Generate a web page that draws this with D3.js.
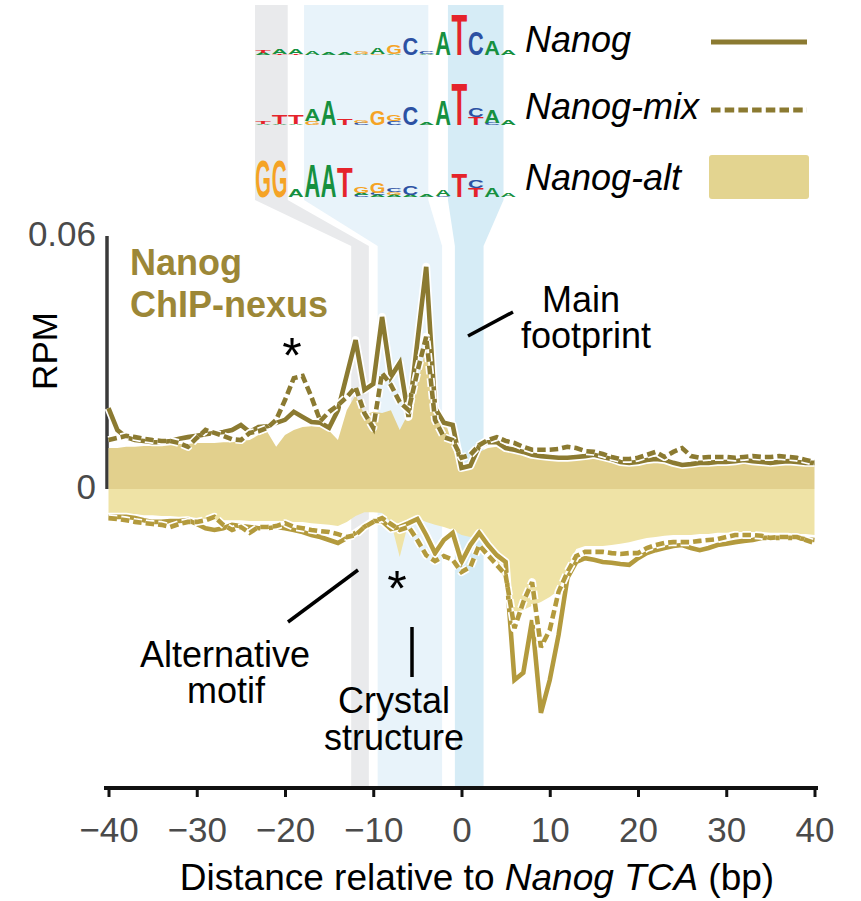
<!DOCTYPE html>
<html><head><meta charset="utf-8">
<script src="https://cdn.jsdelivr.net/npm/d3@7"></script>
<style>
body{margin:0;background:#fff;}
svg{display:block;font-family:"Liberation Sans",Arial,Helvetica,sans-serif;}
</style></head><body>
<svg id="chart" width="861" height="901"></svg>
<script>
// ---------------- DATA ----------------
const positions = d3.range(-40, 41);          // bp relative to Nanog TCA
const xTicks = [-40, -30, -20, -10, 0, 10, 20, 30, 40];
const yTicks = [0, 0.06];
const yTickLabels = ["0", "0.06"];

const seriesNames = ["Nanog", "Nanog-mix", "Nanog-alt"];

// positive strand (RPM)
const nanogPos = [
 .0192,.0140,.0123,.0116,.0114,.0111,.0111,.0114,.0119,.0123,
 .0126,.0130,.0133,.0135,.0140,.0152,.0135,.0147,.0149,.0157,
 .0164,.0183,.0171,.0159,.0157,.0145,.0187,.0270,.0353,.0235,
 .0249,.0408,.0266,.0299,.0171,.0349,.0527,.0192,.0157,.0152,
 .0050,.0055,.0102,.0111,.0111,.0097,.0093,.0088,.0081,.0078,
 .0076,.0074,.0074,.0076,.0078,.0081,.0076,.0071,.0064,.0062,
 .0064,.0069,.0071,.0069,.0062,.0057,.0059,.0062,.0062,.0064,
 .0064,.0066,.0069,.0066,.0064,.0062,.0064,.0066,.0064,.0062,.0062];
const mixPos = [
 .0116,.0121,.0126,.0123,.0119,.0116,.0114,.0114,.0109,.0100,
 .0121,.0140,.0133,.0126,.0118,.0116,.0133,.0137,.0145,.0164,
 .0211,.0263,.0268,.0218,.0161,.0183,.0199,.0218,.0242,.0180,
 .0145,.0275,.0247,.0206,.0187,.0278,.0361,.0164,.0123,.0116,
 .0074,.0081,.0104,.0116,.0123,.0114,.0109,.0100,.0093,.0093,
 .0093,.0095,.0100,.0097,.0090,.0088,.0083,.0076,.0071,.0071,
 .0074,.0081,.0088,.0076,.0088,.0097,.0078,.0074,.0076,.0076,
 .0076,.0074,.0076,.0078,.0076,.0076,.0078,.0076,.0074,.0069,.0064];
const altPos = [
 .0097,.0097,.0100,.0100,.0102,.0102,.0104,.0104,.0107,.0107,
 .0109,.0109,.0109,.0111,.0111,.0114,.0116,.0128,.0135,.0100,
 .0128,.0140,.0147,.0149,.0147,.0138,.0116,.0187,.0223,.0176,
 .0183,.0180,.0187,.0140,.0180,.0247,.0337,.0199,.0171,.0104,
 .0057,.0055,.0088,.0097,.0100,.0090,.0085,.0083,.0078,.0076,
 .0074,.0071,.0071,.0071,.0074,.0076,.0074,.0069,.0064,.0062,
 .0062,.0064,.0066,.0066,.0062,.0059,.0059,.0059,.0059,.0062,
 .0062,.0062,.0064,.0064,.0062,.0062,.0062,.0062,.0062,.0062,.0062];
// negative strand (RPM)
const nanogNeg = [
 -.0066,-.0066,-.0066,-.0069,-.0074,-.0078,-.0078,-.0076,-.0076,-.0074,
 -.0083,-.0093,-.0097,-.0093,-.0085,-.0088,-.0090,-.0093,-.0093,-.0090,
 -.0093,-.0097,-.0102,-.0109,-.0114,-.0121,-.0128,-.0116,-.0104,-.0090,
 -.0076,-.0076,-.0095,-.0090,-.0081,-.0071,-.0109,-.0152,-.0121,-.0104,
 -.0173,-.0133,-.0104,-.0133,-.0157,-.0173,-.0453,-.0436,-.0311,-.0531,
 -.0453,-.0346,-.0211,-.0173,-.0164,-.0168,-.0173,-.0175,-.0178,-.0180,
 -.0164,-.0152,-.0145,-.0140,-.0135,-.0133,-.0140,-.0145,-.0140,-.0133,
 -.0130,-.0126,-.0123,-.0121,-.0116,-.0116,-.0116,-.0116,-.0116,-.0119,-.0121];
const mixNeg = [
 -.0069,-.0071,-.0074,-.0078,-.0081,-.0083,-.0085,-.0090,-.0083,-.0078,
 -.0078,-.0074,-.0066,-.0085,-.0097,-.0090,-.0104,-.0090,-.0090,-.0088,
 -.0081,-.0090,-.0093,-.0097,-.0100,-.0102,-.0107,-.0114,-.0109,-.0090,
 -.0078,-.0069,-.0083,-.0097,-.0090,-.0121,-.0157,-.0171,-.0159,-.0168,
 -.0197,-.0185,-.0133,-.0157,-.0180,-.0204,-.0330,-.0268,-.0221,-.0375,
 -.0334,-.0244,-.0197,-.0159,-.0149,-.0149,-.0149,-.0152,-.0154,-.0152,
 -.0152,-.0140,-.0133,-.0128,-.0126,-.0126,-.0126,-.0123,-.0121,-.0119,
 -.0114,-.0109,-.0109,-.0109,-.0111,-.0116,-.0114,-.0114,-.0114,-.0121,-.0128];
const altNeg = [
 -.0057,-.0057,-.0059,-.0059,-.0062,-.0062,-.0064,-.0064,-.0066,-.0066,
 -.0069,-.0071,-.0074,-.0074,-.0074,-.0074,-.0076,-.0076,-.0076,-.0076,
 -.0076,-.0078,-.0078,-.0081,-.0083,-.0085,-.0088,-.0078,-.0064,-.0055,
 -.0055,-.0057,-.0078,-.0161,-.0078,-.0069,-.0078,-.0085,-.0090,-.0097,
 -.0109,-.0114,-.0111,-.0116,-.0168,-.0228,-.0292,-.0287,-.0277,-.0268,
 -.0256,-.0240,-.0187,-.0142,-.0135,-.0135,-.0135,-.0133,-.0130,-.0126,
 -.0121,-.0116,-.0114,-.0111,-.0109,-.0109,-.0109,-.0107,-.0107,-.0104,
 -.0104,-.0102,-.0102,-.0102,-.0102,-.0104,-.0104,-.0104,-.0107,-.0107,-.0109];

// highlighted motif regions: logo columns (top) and bp (plot)
const bandNames = ["Alternative motif", "Crystal structure", "Main footprint"];
const bandLogoStart = [0, 3, 11.8];
const bandLogoEnd   = [2, 10.6, 15.2];
const bandBpStart   = [-12.5, -9.5, -0.75];
const bandBpEnd     = [-10.5, -2.2, 2.5];

// sequence logos: stacks per column, bottom->top, [letter, bits]
const logoNanog = [
 [["A",.1],["T",.14]],[["T",.05],["A",.24]],[["T",.05],["A",.24]],[["A",.19]],
 [["A",.1]],[["A",.1]],[["A",.05],["G",.14]],[["G",.05],["A",.33]],
 [["A",.05],["G",.43]],[["C",.81]],[["A",.05],["C",.14]],[["A",1.14]],
 [["T",1.95]],[["C",1.14]],[["A",.67]],[["A",.24]]];
const logoMix = [
 [["A",.05],["T",.1]],[["A",.05],["T",.43]],[["A",.05],["T",.43]],[["G",.19],["A",.57]],
 [["A",1.19]],[["T",.33]],[["C",.1],["G",.14]],[["G",.71]],
 [["C",.19],["G",.33]],[["C",.86]],[["A",.1]],[["A",1.19]],
 [["T",2.0]],[["T",.38],["C",.43]],[["C",.1],["A",.62]],[["A",.24]]];
const logoAlt = [
 [["G",1.76]],[["G",1.76]],[["A",.38]],[["A",1.57]],
 [["A",1.57]],[["T",1.43]],[["C",.1],["A",.1],["G",.29]],[["A",.1],["C",.1],["G",.48]],
 [["A",.1],["G",.14],["C",.19]],[["A",.1],["C",.43]],[["A",.1]],[["C",.05],["A",.33]],
 [["T",1.14]],[["T",.43],["C",.38]],[["A",.43]],[["A",.19]]];
const logos = [logoNanog, logoMix, logoAlt];

// ---------------- STYLE ----------------
const posLine = "#8b7a31", negLine = "#b39a3d";
const posFill = "#e2d08d", negFill = "#efe3a6";
const bandColors = ["#e9eaec", "#e8f3fa", "#d6ecf6"];
const letterColors = {A:"#16903f", C:"#2c51a3", G:"#f5a325", T:"#e5232b"};
const letterWidth = {A:.722, C:.722, G:.778, T:.611};

const svg = d3.select("#chart");
const x = d3.scaleLinear().domain([-40, 40]).range([108.5, 814.5]);
const y = d3.scaleLinear().domain([0, 0.06]).range([489, 236]);
const axisY = 788;
const logoX = d3.scaleLinear().domain([0, 16]).range([255, 516.6]);
const logoH = d3.scaleLinear().domain([0, 2]).range([0, 42]);
const logoBase = [55, 125, 197];

// bands
bandNames.forEach((n, i) => {
  const lx0 = logoX(bandLogoStart[i]), lx1 = logoX(bandLogoEnd[i]);
  const px0 = x(bandBpStart[i]), px1 = x(bandBpEnd[i]);
  const pts = [[lx0,5],[lx1,5],[lx1,200],[px1,246],[px1,axisY],[px0,axisY],[px0,246],[lx0,200]];
  svg.append("path").attr("d", d3.line()(pts) + "Z").attr("fill", bandColors[i]);
});

// logos (drawn as one compound path-like group per row)
const colW = logoX(1) - logoX(0);
logos.forEach((rows, r) => {
  const g = svg.append("g").attr("class", "logo");
  rows.forEach((stack, c) => {
    let base = logoBase[r];
    stack.forEach(([L, bits]) => {
      const h = logoH(bits);
      const sx = (colW * 0.96) / (letterWidth[L] * 100);
      const sy = h / 72;
      g.append("text")
        .attr("transform", `translate(${logoX(c) + colW*0.02},${base}) scale(${sx},${sy})`)
        .attr("font-size", 100).attr("font-weight", "bold")
        .attr("fill", letterColors[L]).text(L);
      base -= h;
    });
  });
});

// y axis line (under fill)
svg.append("line").attr("x1", 107).attr("x2", 107).attr("y1", y(0.06)).attr("y2", y(0))
  .attr("stroke", "#3a3a3a").attr("stroke-width", 3.5);

// fills
const area = d3.area().x((d, i) => x(positions[i])).y0(y(0)).y1(d => y(d));
svg.append("path").attr("d", area(altNeg)).attr("fill", negFill);
svg.append("path").attr("d", area(altPos)).attr("fill", posFill);

// lines
const line = d3.line().x((d, i) => x(positions[i])).y(d => y(d));
function drawLine(data, color, dashed) {
  const halo = svg.append("path").attr("d", line(data)).attr("fill", "none")
    .attr("stroke", "#fff").attr("stroke-width", 8).attr("stroke-linejoin", "round");
  const p = svg.append("path").attr("d", line(data)).attr("fill", "none")
    .attr("stroke", color).attr("stroke-width", 4.6).attr("stroke-linejoin", "miter")
    .attr("stroke-miterlimit", 3);
  if (dashed) { halo.attr("stroke-dasharray", "8.5,4"); p.attr("stroke-dasharray", "8.5,4"); }
}
drawLine(nanogNeg, negLine, false);
drawLine(mixNeg, negLine, true);
drawLine(nanogPos, posLine, false);
drawLine(mixPos, posLine, true);

// x axis
svg.append("line").attr("x1", 104).attr("x2", 818).attr("y1", axisY).attr("y2", axisY)
  .attr("stroke", "#111").attr("stroke-width", 4);
const xAxis = svg.append("g").attr("transform", `translate(0,${axisY})`)
  .call(d3.axisBottom(x).tickValues(xTicks).tickSize(9).tickPadding(20).tickSizeOuter(0));
xAxis.select(".domain").remove();
xAxis.selectAll(".tick line").attr("stroke", "#111").attr("stroke-width", 3);
xAxis.selectAll(".tick text").attr("font-size", 35).attr("fill", "#4a4a4a")
  .attr("font-family", "Liberation Sans, Arial, sans-serif");

// y axis labels
const yAxis = svg.append("g").attr("transform", "translate(107,0)")
  .call(d3.axisLeft(y).tickValues(yTicks).tickSize(0).tickPadding(11)
    .tickFormat((d, i) => yTickLabels[i]));
yAxis.select(".domain").remove();
yAxis.selectAll(".tick text").attr("font-size", 35).attr("fill", "#4a4a4a")
  .attr("font-family", "Liberation Sans, Arial, sans-serif").attr("dy", "0.28em");

function txt(xp, yp, s, o = {}) {
  return svg.append("text").attr("x", xp).attr("y", yp).text(s)
    .attr("font-size", o.size || 36).attr("fill", o.fill || "#000")
    .attr("text-anchor", o.anchor || "start")
    .attr("font-style", o.style || "normal").attr("font-weight", o.weight || "normal");
}

// RPM label
svg.append("text").attr("transform", "translate(57,351) rotate(-90)")
  .attr("text-anchor", "middle").attr("font-size", 35).text("RPM");

// x title
const xt = svg.append("text").attr("x", 477).attr("y", 890).attr("text-anchor", "middle")
  .attr("font-size", 37);
xt.append("tspan").text("Distance relative to ");
xt.append("tspan").attr("font-style", "italic").text("Nanog TCA");
xt.append("tspan").text(" (bp)");

// Legend
const legY = [52, 119, 190];
seriesNames.forEach((n, i) => txt(525, legY[i], n, {style: "italic", size: 36}));
svg.append("line").attr("x1", 711).attr("x2", 807).attr("y1", 42).attr("y2", 42)
  .attr("stroke", posLine).attr("stroke-width", 5);
svg.append("line").attr("x1", 711).attr("x2", 807).attr("y1", 110).attr("y2", 110)
  .attr("stroke", posLine).attr("stroke-width", 5).attr("stroke-dasharray", "9.5,4.2");
svg.append("rect").attr("x", 709).attr("y", 155).attr("width", 100).attr("height", 44)
  .attr("rx", 3).attr("fill", "#e3d490");

// title in plot
txt(130, 275, "Nanog", {weight: "bold", fill: "#9c8737", size: 36});
txt(130, 317, "ChIP-nexus", {weight: "bold", fill: "#9c8737", size: 36});

// asterisks
txt(292, 373, "*", {anchor: "middle", size: 50});
txt(397, 606, "*", {anchor: "middle", size: 50});

// annotations
txt(581, 312, "Main", {anchor: "middle"});
txt(586, 348, "footprint", {anchor: "middle"});
svg.append("line").attr("x1", 468).attr("y1", 336).attr("x2", 513).attr("y2", 312)
  .attr("stroke", "#000").attr("stroke-width", 3.5);
txt(225, 667, "Alternative", {anchor: "middle"});
txt(226, 703, "motif", {anchor: "middle"});
svg.append("line").attr("x1", 288).attr("y1", 622).attr("x2", 358).attr("y2", 570)
  .attr("stroke", "#000").attr("stroke-width", 3.5);
txt(394, 713, "Crystal", {anchor: "middle"});
txt(394, 750, "structure", {anchor: "middle"});
svg.append("line").attr("x1", 412).attr("y1", 627).attr("x2", 412).attr("y2", 677)
  .attr("stroke", "#000").attr("stroke-width", 3.5);
</script>
</body></html>
